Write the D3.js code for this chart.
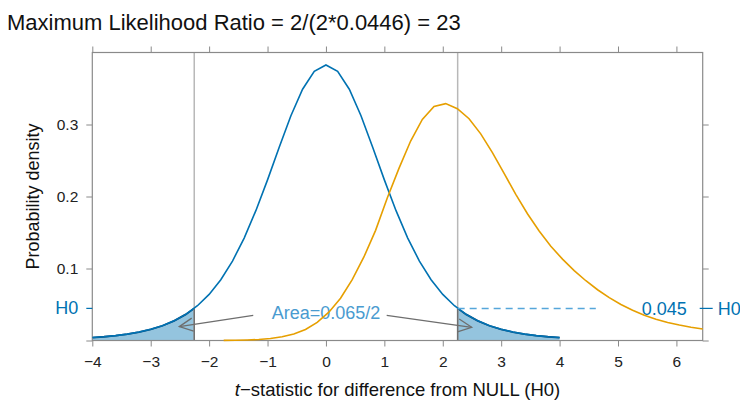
<!DOCTYPE html>
<html>
<head>
<meta charset="utf-8">
<script src="https://cdn.jsdelivr.net/npm/d3@7"></script>
<style>
  body { margin: 0; background: #fff; }
  svg { font-family: "Liberation Sans", Arial, Helvetica, sans-serif; }
  .axis path.domain { display: none; }
  .axis line { stroke: #8a8a8a; }
  .axis text { fill: #222; font-size: 15.5px; }
</style>
</head>
<body>
<svg width="740" height="401"></svg>
<script>

//
// values
//
var blueX = [-4, -3.8, -3.6, -3.4, -3.2, -3, -2.8, -2.6, -2.4, -2.2, -2, -1.8, -1.6, -1.4, -1.2, -1, -0.8, -0.6, -0.4, -0.2,
             0, 0.2, 0.4, 0.6, 0.8, 1, 1.2, 1.4, 1.6, 1.8, 2, 2.2, 2.4, 2.6, 2.8, 3, 3.2, 3.4, 3.6, 3.8, 4];
var blueY = [0.0041, 0.0052, 0.0068, 0.0089, 0.0117, 0.0155, 0.0205, 0.0273, 0.0363, 0.0483, 0.0640, 0.0844, 0.1103, 0.1423, 0.1803, 0.2231, 0.2684, 0.3121, 0.3490, 0.3739,
             0.3827, 0.3739, 0.3490, 0.3121, 0.2684, 0.2231, 0.1803, 0.1423, 0.1103, 0.0844, 0.0640, 0.0483, 0.0363, 0.0273, 0.0205, 0.0155, 0.0117, 0.0089, 0.0068, 0.0052, 0.0041];

var orangeX = [-1.75, -1.55, -1.35, -1.15, -0.95, -0.75, -0.55, -0.35, -0.15, 0.05, 0.25, 0.45, 0.65, 0.85, 1.05, 1.25, 1.45, 1.65, 1.85, 2.05,
               2.25, 2.45, 2.65, 2.85, 3.05, 3.25, 3.45, 3.65, 3.85, 4.05, 4.25, 4.45, 4.65, 4.85, 5.05, 5.25, 5.45, 5.65, 5.85, 6.05, 6.25, 6.45];
var orangeY = [0.0002, 0.0003, 0.0007, 0.0014, 0.0028, 0.0051, 0.0091, 0.0154, 0.0251, 0.0393, 0.0588, 0.0845, 0.116, 0.153, 0.198, 0.239, 0.277, 0.307, 0.325, 0.329,
               0.322, 0.308, 0.287, 0.261, 0.232, 0.203, 0.176, 0.152, 0.131, 0.113, 0.097, 0.083, 0.0705, 0.0595, 0.050, 0.042, 0.035, 0.0295, 0.025, 0.0215, 0.0185, 0.016];

var xTicks = [-4, -3, -2, -1, 0, 1, 2, 3, 4, 5, 6];
var yTicks = [0, 0.1, 0.2, 0.3];

var critT = 2.255;        // observed t, both sides
var h0Density = 0.0446;   // density of H0 at critT
var dashEnd = 4.62;
var areaText = "Area=0.065/2";
var h0Text = "0.045";
var title = "Maximum Likelihood Ratio = 2/(2*0.0446) = 23";

var svg = d3.select("svg");

var x = d3.scaleLinear().domain([-4, 6.45]).range([92.3, 702.7]);
var y = d3.scaleLinear().domain([0, 0.4]).range([340.5, 52.5]);

var blue = blueX.map(function (d, i) { return [d, blueY[i]]; });
var orange = orangeX.map(function (d, i) { return [d, orangeY[i]]; });

var line = d3.line()
    .x(function (d) { return x(d[0]); })
    .y(function (d) { return y(d[1]); });

//
// shaded tails of H0 beyond +/- critT
//
var leftTail = blue.filter(function (d) { return d[0] <= -critT; });
leftTail.push([-critT, h0Density]);
var rightTail = [[critT, h0Density]].concat(blue.filter(function (d) { return d[0] >= critT; }));

var area = d3.area()
    .x(function (d) { return x(d[0]); })
    .y0(y(0))
    .y1(function (d) { return y(d[1]); });

[leftTail, rightTail].forEach(function (t) {
  svg.append("path").datum(t)
      .attr("d", area)
      .attr("fill", "#94c4de");
  svg.append("path").datum(t)
      .attr("d", line)
      .attr("fill", "none")
      .attr("stroke", "#0d4878")
      .attr("stroke-width", 1.8);
});

// vertical edges of the tails
[-critT, critT].forEach(function (v) {
  svg.append("line")
      .attr("x1", x(v)).attr("x2", x(v))
      .attr("y1", y(0)).attr("y2", y(0.4))
      .attr("stroke", "#b8b8b8").attr("stroke-width", 1.5);
  svg.append("line")
      .attr("x1", x(v)).attr("x2", x(v))
      .attr("y1", y(0)).attr("y2", y(h0Density))
      .attr("stroke", "#6f6f6f").attr("stroke-width", 1.5);
});

// axes
svg.append("g").attr("class", "axis")
    .attr("transform", "translate(0," + y(0) + ")")
    .call(d3.axisBottom(x).tickValues(xTicks).tickSize(6).tickPadding(9).tickSizeOuter(0));
svg.append("g").attr("class", "axis")
    .attr("transform", "translate(0," + y(0.4) + ")")
    .call(d3.axisTop(x).tickValues(xTicks).tickSize(6).tickFormat("").tickSizeOuter(0));
svg.append("g").attr("class", "axis")
    .attr("transform", "translate(" + x(-4) + ",0)")
    .call(d3.axisLeft(y).tickValues(yTicks).tickSize(6).tickPadding(8).tickSizeOuter(0)
      .tickFormat(function (d) { return d === 0 ? "" : d3.format(".1f")(d); }));
svg.append("g").attr("class", "axis")
    .attr("transform", "translate(" + x(6.45) + ",0)")
    .call(d3.axisRight(y).tickValues(yTicks).tickSize(6).tickFormat("").tickSizeOuter(0));

// frame
svg.append("rect")
    .attr("x", x(-4)).attr("y", y(0.4))
    .attr("width", x(6.45) - x(-4)).attr("height", y(0) - y(0.4))
    .attr("fill", "none").attr("stroke", "#8a8a8a").attr("stroke-width", 1.2);

// curves
svg.append("path").datum(blue)
    .attr("d", line)
    .attr("fill", "none")
    .attr("stroke", "#0072b2")
    .attr("stroke-width", 1.6);

// H0 level
svg.append("line")
    .attr("x1", x(critT)).attr("x2", x(dashEnd))
    .attr("y1", y(h0Density)).attr("y2", y(h0Density))
    .attr("stroke", "#56a6da").attr("stroke-width", 1.5)
    .attr("stroke-dasharray", "7,5");

svg.append("line")
    .attr("x1", x(-4) - 6).attr("x2", x(-4))
    .attr("y1", y(h0Density)).attr("y2", y(h0Density))
    .attr("stroke", "#0072b2").attr("stroke-width", 1.2);
svg.append("line")
    .attr("x1", x(6.45) - 3).attr("x2", x(6.45) + 10)
    .attr("y1", y(h0Density)).attr("y2", y(h0Density))
    .attr("stroke", "#0072b2").attr("stroke-width", 1.2);

svg.append("text")
    .attr("x", x(-4) - 14).attr("y", y(h0Density) + 6)
    .attr("text-anchor", "end")
    .attr("fill", "#0072b2").style("font-size", "18px")
    .text("H0");
svg.append("text")
    .attr("x", x(6.45) - 16).attr("y", y(h0Density) + 6.5)
    .attr("text-anchor", "end")
    .attr("fill", "#0072b2").style("font-size", "18px")
    .text(h0Text);
svg.append("text")
    .attr("x", x(6.45) + 15).attr("y", y(h0Density) + 6.5)
    .attr("fill", "#0072b2").style("font-size", "18px")
    .text("H0");

//
// arrows from the area label to each tail
//
var arrows = [
  {from: [-1.245, 0.035], to: [-2.51, 0.0193]},
  {from: [1.04, 0.035], to: [2.495, 0.0183]}
];

arrows.forEach(function (a) {
  var x1 = x(a.from[0]), y1 = y(a.from[1]);
  var x2 = x(a.to[0]), y2 = y(a.to[1]);
  var ang = Math.atan2(y2 - y1, x2 - x1);
  var len = 15, spread = 0.45;
  var g = svg.append("g").attr("stroke", "#6e6e6e").attr("stroke-width", 1.3).attr("fill", "none");
  g.append("line").attr("x1", x1).attr("y1", y1).attr("x2", x2).attr("y2", y2);
  g.append("path").attr("d",
      "M" + (x2 - len * Math.cos(ang - spread)) + "," + (y2 - len * Math.sin(ang - spread)) +
      "L" + x2 + "," + y2 +
      "L" + (x2 - len * Math.cos(ang + spread)) + "," + (y2 - len * Math.sin(ang + spread)));
});

svg.append("text")
    .attr("x", x(0)).attr("y", y(0.039) + 6.5)
    .attr("text-anchor", "middle")
    .attr("fill", "#4a9bd0").style("font-size", "18px")
    .text(areaText);

svg.append("path").datum(orange)
    .attr("d", line)
    .attr("fill", "none")
    .attr("stroke", "#e69f00")
    .attr("stroke-width", 1.6);

// titles
svg.append("text")
    .attr("x", 7).attr("y", 30)
    .style("font-size", "22px").attr("fill", "#111")
    .text(title);

var xl = svg.append("text")
    .attr("x", (x(-4) + x(6.45)) / 2).attr("y", 396)
    .attr("text-anchor", "middle")
    .style("font-size", "18.5px").attr("fill", "#111");
xl.append("tspan").style("font-style", "italic").text("t");
xl.append("tspan").text("\u2212statistic for difference from NULL (H0)");

svg.append("text")
    .attr("transform", "translate(39," + (y(0) + y(0.4)) / 2 + ") rotate(-90)")
    .attr("text-anchor", "middle")
    .style("font-size", "18px").attr("fill", "#111")
    .text("Probability density");

</script>
</body>
</html>
